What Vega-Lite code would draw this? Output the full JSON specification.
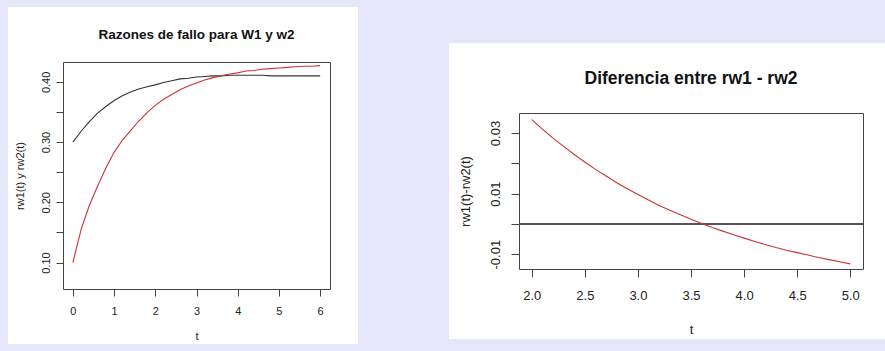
{
  "$schema": "https://vega.github.io/schema/vega-lite/v6.json",
  "background": "#e6e6fa",
  "autosize": {"type": "none"},
  "padding": {"left": 63, "top": 62, "right": 822, "bottom": 289},
  "bounds": "flush",
  "config": {
    "view": {"stroke": null},
    "font": "Liberation Sans",
    "axis": {"grid": false, "domainColor": "#444", "tickColor": "#444", "labelColor": "#222", "titleColor": "#222", "labelFont": "Liberation Sans", "titleFont": "Liberation Sans", "titleFontWeight": "normal", "domainWidth": 1, "tickWidth": 1},
    "title": {"font": "Liberation Sans", "color": "#111", "fontWeight": "bold"}
  },
  "datasets": {
    "haz": [
      {"t": 0.0, "rw1": 0.300, "rw2": 0.100},
      {"t": 0.2, "rw1": 0.318, "rw2": 0.155},
      {"t": 0.4, "rw1": 0.334, "rw2": 0.195},
      {"t": 0.6, "rw1": 0.348, "rw2": 0.227},
      {"t": 0.8, "rw1": 0.359, "rw2": 0.257},
      {"t": 1.0, "rw1": 0.369, "rw2": 0.283},
      {"t": 1.2, "rw1": 0.377, "rw2": 0.303},
      {"t": 1.4, "rw1": 0.383, "rw2": 0.319},
      {"t": 1.6, "rw1": 0.388, "rw2": 0.335},
      {"t": 1.8, "rw1": 0.392, "rw2": 0.349},
      {"t": 2.0, "rw1": 0.395, "rw2": 0.361},
      {"t": 2.2, "rw1": 0.399, "rw2": 0.371},
      {"t": 2.4, "rw1": 0.402, "rw2": 0.379},
      {"t": 2.6, "rw1": 0.405, "rw2": 0.387},
      {"t": 2.8, "rw1": 0.406, "rw2": 0.393},
      {"t": 3.0, "rw1": 0.408, "rw2": 0.398},
      {"t": 3.2, "rw1": 0.409, "rw2": 0.403},
      {"t": 3.4, "rw1": 0.410, "rw2": 0.407},
      {"t": 3.6, "rw1": 0.410, "rw2": 0.410},
      {"t": 3.8, "rw1": 0.411, "rw2": 0.413},
      {"t": 4.0, "rw1": 0.411, "rw2": 0.415},
      {"t": 4.2, "rw1": 0.411, "rw2": 0.418},
      {"t": 4.4, "rw1": 0.411, "rw2": 0.419},
      {"t": 4.6, "rw1": 0.411, "rw2": 0.421},
      {"t": 4.8, "rw1": 0.410, "rw2": 0.422},
      {"t": 5.0, "rw1": 0.410, "rw2": 0.423},
      {"t": 5.2, "rw1": 0.410, "rw2": 0.424},
      {"t": 5.4, "rw1": 0.410, "rw2": 0.425},
      {"t": 5.6, "rw1": 0.410, "rw2": 0.426},
      {"t": 5.8, "rw1": 0.410, "rw2": 0.426},
      {"t": 6.0, "rw1": 0.410, "rw2": 0.427}
    ],
    "diff": [
      {"t": 2.0, "d": 0.0344}, {"t": 2.1, "d": 0.0313}, {"t": 2.2, "d": 0.0283},
      {"t": 2.3, "d": 0.0256}, {"t": 2.4, "d": 0.0229}, {"t": 2.5, "d": 0.0204},
      {"t": 2.6, "d": 0.0180}, {"t": 2.7, "d": 0.0158}, {"t": 2.8, "d": 0.0136},
      {"t": 2.9, "d": 0.0116}, {"t": 3.0, "d": 0.0097}, {"t": 3.1, "d": 0.0079},
      {"t": 3.2, "d": 0.0061}, {"t": 3.3, "d": 0.0045}, {"t": 3.4, "d": 0.0030},
      {"t": 3.5, "d": 0.0015}, {"t": 3.6, "d": 0.0001}, {"t": 3.7, "d": -0.0012},
      {"t": 3.8, "d": -0.0024}, {"t": 3.9, "d": -0.0036}, {"t": 4.0, "d": -0.0047},
      {"t": 4.1, "d": -0.0058}, {"t": 4.2, "d": -0.0068}, {"t": 4.3, "d": -0.0078},
      {"t": 4.4, "d": -0.0087}, {"t": 4.5, "d": -0.0095}, {"t": 4.6, "d": -0.0103},
      {"t": 4.7, "d": -0.0111}, {"t": 4.8, "d": -0.0118}, {"t": 4.9, "d": -0.0125},
      {"t": 5.0, "d": -0.0132}
    ]
  },
  "spacing": 83,
  "hconcat": [
    {
      "width": 267,
      "height": 227,
      "view": {"stroke": "white", "strokeWidth": 110, "fill": "white"},
      "title": {"text": "Razones de fallo para W1 y w2", "fontSize": 13.5, "offset": 10, "baseline": "alphabetic", "frame": "group"},
      "data": {"name": "haz"},
      "transform": [{"fold": ["rw1", "rw2"], "as": ["serie", "v"]}],
      "layer": [
        {
          "mark": {"type": "line", "strokeWidth": 1.1},
          "encoding": {
            "x": {"field": "t", "type": "quantitative", "scale": {"domain": [-0.24, 6.24], "nice": false, "zero": false},
              "axis": {"orient": "bottom", "values": [0, 1, 2, 3, 4, 5, 6], "format": "d", "tickSize": 7, "labelFontSize": 11, "labelPadding": 9, "title": "t", "titleFontSize": 11, "titlePadding": 14}},
            "y": {"field": "v", "type": "quantitative", "scale": {"domain": [0.056, 0.433], "nice": false, "zero": false},
              "axis": {"orient": "left", "values": [0.1, 0.15, 0.2, 0.25, 0.3, 0.35, 0.4], "labelExpr": "round(datum.value*100) % 10 == 0 ? format(datum.value, '.2f') : ''", "labelAngle": -90, "labelAlign": "center", "labelBaseline": "bottom", "tickSize": 7, "labelFontSize": 11, "labelPadding": 5, "title": "rw1(t) y rw2(t)", "titleFontSize": 11, "titlePadding": 15}},
            "color": {"field": "serie", "type": "nominal", "scale": {"domain": ["rw1", "rw2"], "range": ["#333333", "#cc3333"]}, "legend": null}
          }
        },
        {
          "mark": {"type": "line", "opacity": 0},
          "encoding": {
            "x": {"field": "t", "type": "quantitative", "axis": {"orient": "top", "ticks": false, "labels": false, "title": null}},
            "y": {"field": "v", "type": "quantitative", "axis": {"orient": "right", "ticks": false, "labels": false, "title": null}},
            "detail": {"field": "serie"}
          }
        }
      ],
      "resolve": {"axis": {"x": "independent", "y": "independent"}}
    },
    {
      "width": 23,
      "height": 234,
      "view": {"fill": "#e6e6fa", "stroke": "#e6e6fa", "strokeWidth": 110},
      "data": {"values": [{}]},
      "mark": {"type": "point", "opacity": 0},
      "encoding": {}
    },
    {
      "spacing": 0,
      "bounds": "flush",
      "vconcat": [
        {
          "width": 344,
          "height": 51,
          "data": {"values": [{}]},
          "mark": {"type": "point", "opacity": 0},
          "encoding": {}
        },
        {
          "width": 344,
          "height": 156,
          "view": {"stroke": "white", "strokeWidth": 140, "fill": "white"},
          "title": {"text": "Diferencia entre rw1 - rw2", "fontSize": 17.5, "offset": 12, "baseline": "alphabetic", "frame": "group"},
          "data": {"name": "diff"},
          "layer": [
            {
              "mark": {"type": "rule", "color": "#555555", "strokeWidth": 1},
              "encoding": {"y": {"datum": 0, "type": "quantitative", "axis": null}}
            },
            {
              "mark": {"type": "line", "color": "#cc3333", "strokeWidth": 1.1},
              "encoding": {
                "x": {"field": "t", "type": "quantitative", "scale": {"domain": [1.88, 5.12], "nice": false, "zero": false},
                  "axis": {"orient": "bottom", "values": [2, 2.5, 3, 3.5, 4, 4.5, 5], "format": ".1f", "tickSize": 8, "labelFontSize": 13, "labelPadding": 12, "title": "t", "titleFontSize": 13, "titlePadding": 21}},
                "y": {"field": "d", "type": "quantitative", "scale": {"domain": [-0.0149, 0.0366], "nice": false, "zero": false},
                  "axis": {"orient": "left", "values": [-0.01, 0, 0.01, 0.02, 0.03], "labelExpr": "abs(round(datum.value*100)) % 2 == 1 ? (datum.value < 0 ? '-' : '') + format(abs(datum.value), '.2f') : ''", "labelAngle": -90, "labelAlign": "center", "labelBaseline": "bottom", "tickSize": 8, "labelFontSize": 13, "labelPadding": 9, "title": "rw1(t)-rw2(t)", "titleFontSize": 13, "titlePadding": 17}}
              }
            },
            {
              "mark": {"type": "line", "opacity": 0},
              "encoding": {
                "x": {"field": "t", "type": "quantitative", "axis": {"orient": "top", "ticks": false, "labels": false, "title": null}},
                "y": {"field": "d", "type": "quantitative", "axis": {"orient": "right", "ticks": false, "labels": false, "title": null}}
              }
            }
          ],
          "resolve": {"axis": {"x": "independent", "y": "independent"}}
        }
      ]
    }
  ]
}
